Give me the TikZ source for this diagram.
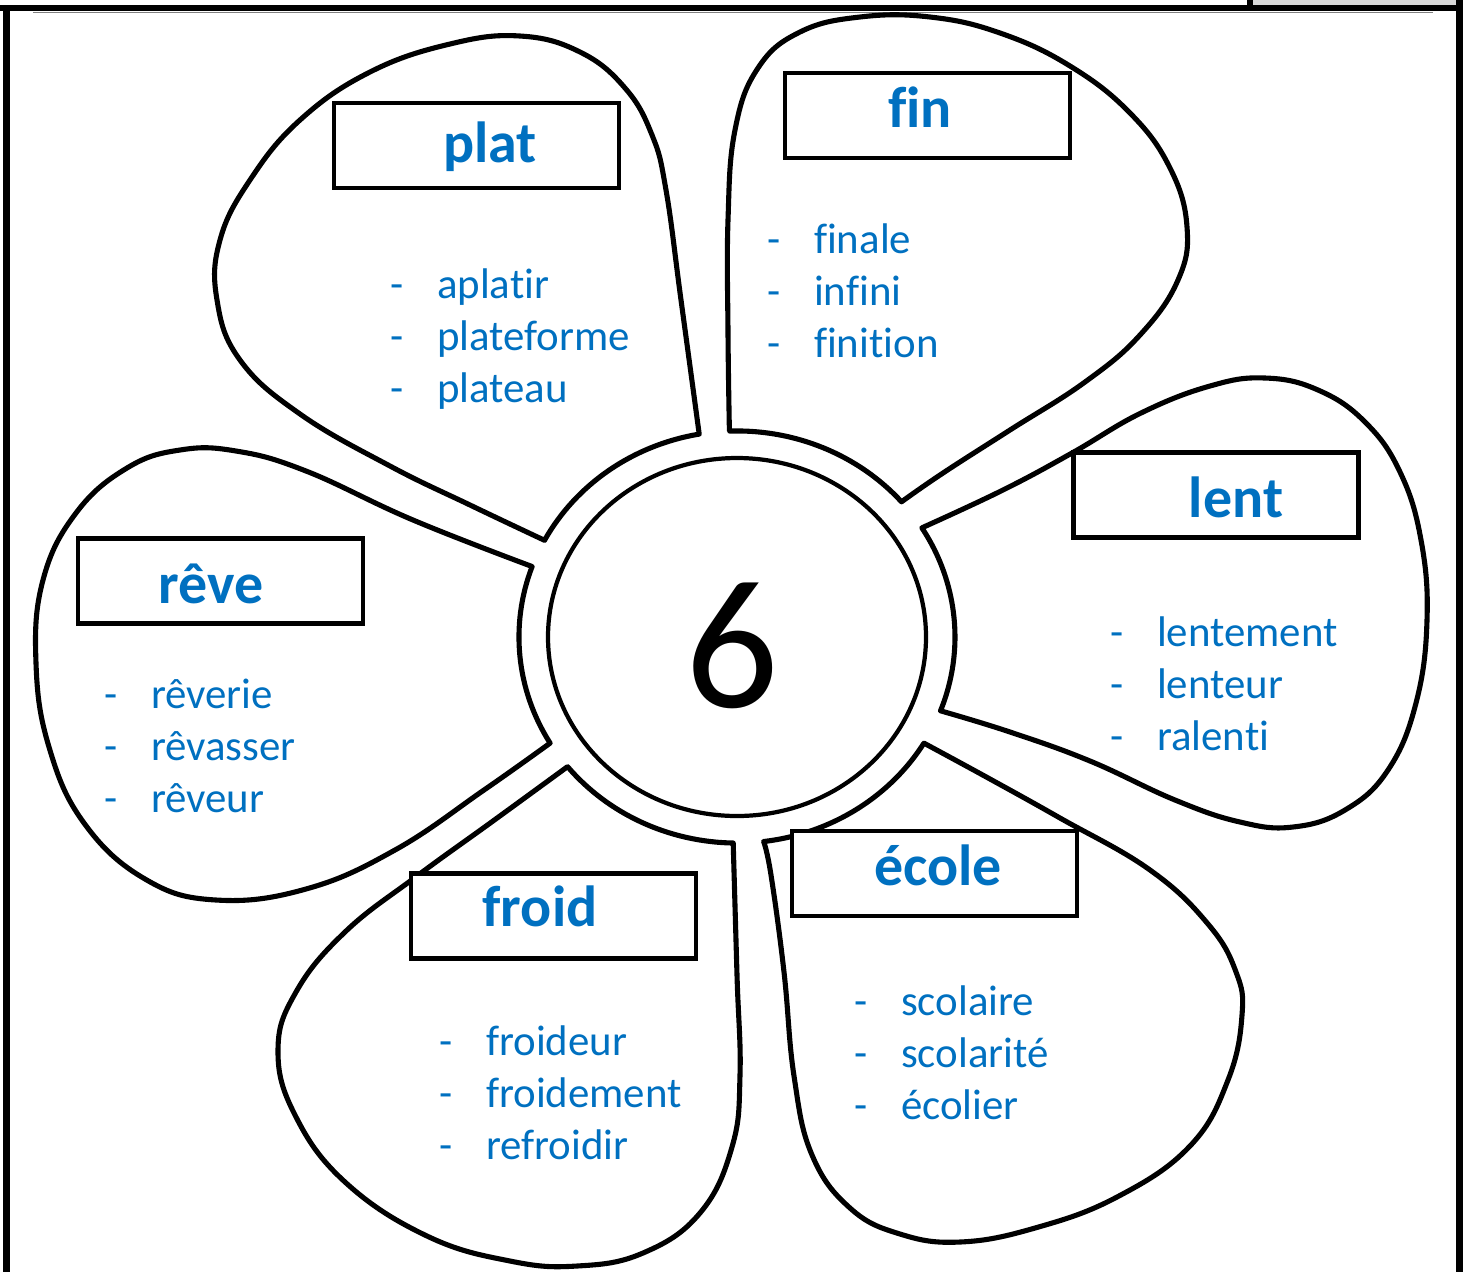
\documentclass[tikz,border=0pt]{standalone}
\usepackage{fontspec}
\setmainfont{Carlito}[Ligatures={CommonOff,ContextualOff}]
\usepackage{tikz}
\definecolor{wordblue}{RGB}{0,112,192}
\tikzstyle{petal} = [line width=2.9pt, line join=round]
\tikzstyle{wordbox} = [draw, fill=white, line width=2.6pt, minimum width=5.7cm, minimum height=1.7cm, inner sep=0pt]
\tikzstyle{head} = [anchor=base, inner sep=0pt, text=wordblue, font=\fontsize{33}{33}\selectfont\bfseries]
\tikzstyle{words} = [anchor=base west, inner sep=0pt, text=wordblue, font=\fontsize{24.4}{29.65}\selectfont]
\newcommand{\famille}[3]{\begin{tabular}[t]{@{}l@{}}\makebox[26.6pt][l]{-}#1\\\makebox[26.6pt][l]{-}#2\\\makebox[26.6pt][l]{-}#3\end{tabular}}

\begin{document}
\begin{tikzpicture}[x=0.02cm, y=-0.02cm]
  \useasboundingbox (0,0) rectangle (1469,1272);
  \fill (0,5) rectangle (1463,11);
  \fill (3,5) rectangle (10,1272);
  \fill (1456,0) rectangle (1463,1272);
  \fill (1247,0) rectangle (1253,5);
  \fill[gray!30] (1253,0) rectangle (1456,5);
  \draw[black!50, line width=0.9pt] (33,12.5) -- (1433,12.5);
  % petals
  \draw[petal] plot[smooth, tension=0.7] coordinates {(544.5,540.3) (470,505) (390,466) (300,414) (240,360) (217,300) (220,240) (250,180) (300,120) (370,72) (450,44) (520,36) (580,52) (625,88) (652,135) (666,190) (681,300) (699.2,434.1)}
    arc[start angle=-100, end angle=-152, x radius=218, y radius=206] -- cycle;
  \draw[petal] plot[smooth, tension=0.7] coordinates {(729.4,431.1) (728,333) (728,220) (735,130) (758,68) (800,32) (860,17) (930,17) (1000,33) (1070,66) (1130,113) (1170,168) (1187,227) (1178,280) (1140,335) (1085,382) (1010,430) (943,473) (901.5,501.8)}
    arc[start angle=-41, end angle=-92, x radius=218, y radius=206] -- cycle;
  \draw[petal] plot[smooth, tension=0.7] coordinates {(921.9,527.8) (1003,490) (1072,453) (1141,413) (1210,386) (1265,378) (1318,390) (1365,422) (1400,472) (1421,540) (1427,620) (1416,703) (1388,770) (1345,810) (1293,827) (1240,822) (1175,800) (1090,761) (1010,732) (940.5,710.8)}
    arc[start angle=21, end angle=-32, x radius=218, y radius=206] -- cycle;
  \draw[petal] plot[smooth, tension=0.7] coordinates {(923.9,743.1) (990,779) (1060,818) (1150,870) (1208,924) (1236,972) (1242,1015) (1228,1080) (1190,1146) (1117,1197) (1035,1228) (960,1242) (900,1234) (850,1208) (812,1155) (794,1076) (784,972) (771,875) (763.6,841.5)}
    arc[start angle=83, end angle=31, x radius=218, y radius=206] -- cycle;
  \draw[petal] plot[smooth, tension=0.7] coordinates {(567.6,766.6) (493,821) (417,876) (345,932) (296,992) (278,1050) (295,1115) (345,1182) (427,1236) (510,1261) (577,1266) (643,1253) (700,1213) (732,1147) (740,1075) (737,975) (733.2,843)}
    arc[start angle=91, end angle=141, x radius=218, y radius=206] -- cycle;
  \draw[petal] plot[smooth, tension=0.7] coordinates {(532.1,566.5) (413,520) (306,471) (236,451) (180,450) (127,468) (76,513) (43,580) (36,663) (49,747) (84,823) (145,879) (216,900) (306,889) (395,850) (484,790) (550.1,743.1)}
    arc[start angle=149, end angle=200, x radius=218, y radius=206] -- cycle;
  \draw[line width=2.4pt] (737,637) ellipse [x radius=189, y radius=179];
  \node (six) at (732.5,707) [anchor=base, inner sep=0pt, font=\fontsize{105}{105}\selectfont] {6};
  % boxes
  \node (platbox) at (476.5,145.5) [wordbox] {};
  \node (finbox) at (927.5,115.5) [wordbox] {};
  \node (lentbox) at (1216,495) [wordbox] {};
  \node (revebox) at (220.5,581) [wordbox] {};
  \node (froidbox) at (553.5,916) [wordbox] {};
  \node (ecolebox) at (934.5,873.5) [wordbox] {};
  \node (plat) at (490,162) [head] {plat};
  \node (fin) at (920,127) [head] {fin};
  \node (lent) at (1236,517) [head] {lent};
  \node (reve) at (211,603) [head] {rêve};
  \node (froid) at (540,926) [head] {froid};
  \node (ecole) at (938,885) [head] {école};
  \node (platlist) at (390,298) [words] {\famille{aplatir}{plateforme}{plateau}};
  \node (finlist) at (767,253) [words] {\famille{finale}{infini}{finition}};
  \node (lentlist) at (1110,646) [words] {\famille{lentement}{lenteur}{ralenti}};
  \node (ecolelist) at (854,1015) [words] {\famille{scolaire}{scolarité}{écolier}};
  \node (froidlist) at (439,1055) [words] {\famille{froideur}{froidement}{refroidir}};
  \node (revelist) at (104,708) [words] {\famille{rêverie}{rêvasser}{rêveur}};
\end{tikzpicture}
\end{document}
